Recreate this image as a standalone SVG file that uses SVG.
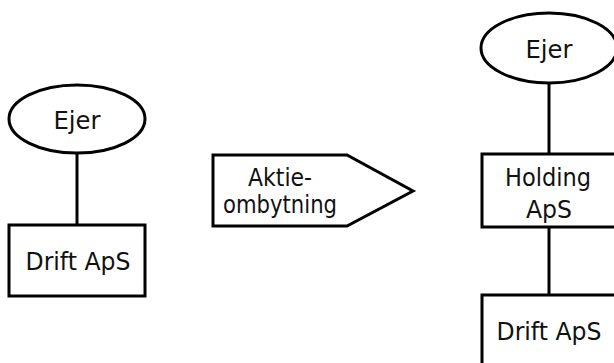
<svg xmlns="http://www.w3.org/2000/svg" width="614" height="363" viewBox="0 0 614 363">
<style>
.s{fill:#fff;stroke:#000;stroke-width:3}
.c{stroke:#000;stroke-width:3;fill:none}
text{font-family:"DejaVu Sans","Liberation Sans",sans-serif;font-size:24px;fill:#111;text-anchor:middle}
</style>
<rect width="614" height="363" fill="#fff"/>
<g id="connectors">
<line class="c" x1="77" y1="153" x2="77" y2="225"/>
<line class="c" x1="549" y1="83" x2="549" y2="154"/>
<line class="c" x1="549" y1="227" x2="549" y2="295"/>
</g>
<g id="ejer-left">
<ellipse class="s" cx="77" cy="119" rx="68" ry="34"/>
<text x="77" y="129" textLength="47" lengthAdjust="spacingAndGlyphs">Ejer</text>
</g>
<g id="drift-left">
<rect class="s" x="9" y="225" width="136" height="71"/>
<text x="78" y="270" textLength="105" lengthAdjust="spacingAndGlyphs">Drift ApS</text>
</g>
<g id="aktieombytning">
<polygon class="s" points="213,155 347,155 413,191 347,226 213,226"/>
<text x="280" y="186" textLength="64" lengthAdjust="spacingAndGlyphs">Aktie-</text>
<text x="280" y="213" textLength="114" lengthAdjust="spacingAndGlyphs">ombytning</text>
</g>
<g id="ejer-right">
<ellipse class="s" cx="549" cy="48" rx="68" ry="35"/>
<text x="549" y="58" textLength="47" lengthAdjust="spacingAndGlyphs">Ejer</text>
</g>
<g id="holding">
<rect class="s" x="482" y="154" width="136" height="73"/>
<text x="548" y="186" textLength="86" lengthAdjust="spacingAndGlyphs">Holding</text>
<text x="549" y="218" textLength="46" lengthAdjust="spacingAndGlyphs">ApS</text>
</g>
<g id="drift-right">
<rect class="s" x="482" y="295" width="136" height="73"/>
<text x="549" y="340" textLength="105" lengthAdjust="spacingAndGlyphs">Drift ApS</text>
</g>
</svg>
